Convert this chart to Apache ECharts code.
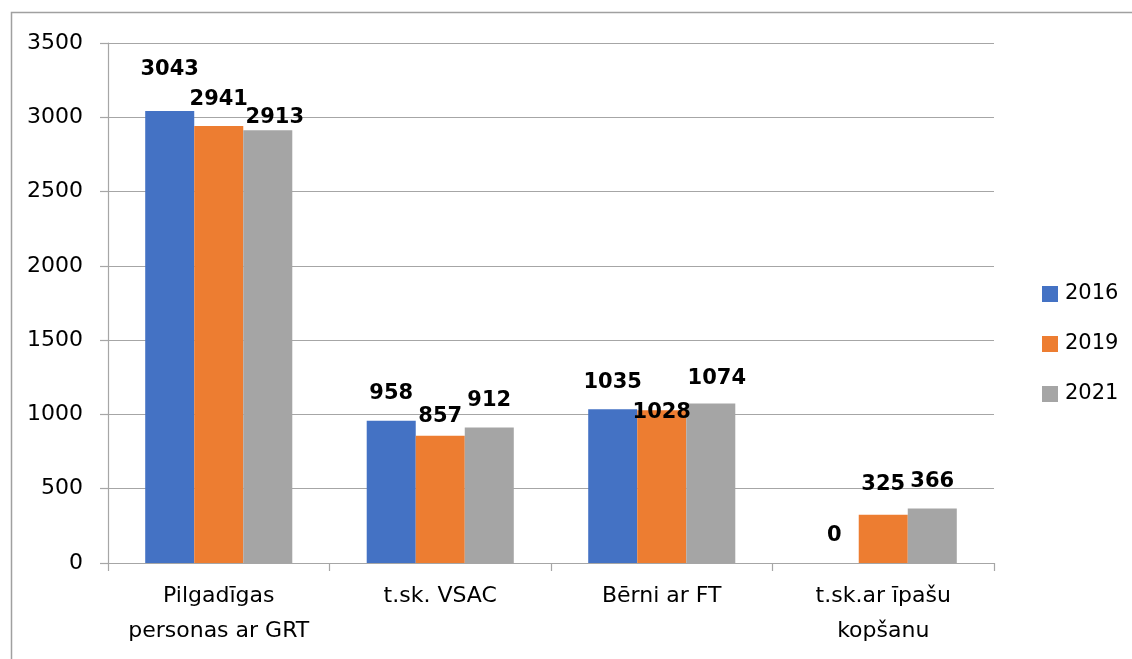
<!DOCTYPE html>
<html>
<head>
<meta charset="utf-8">
<title>Pilgadīgas personas ar GRT</title>
<script src="https://cdn.jsdelivr.net/npm/echarts@6/dist/echarts.min.js"></script>
<style>
  html, body { margin: 0; padding: 0; background: #fff; }
  #main { width: 1132px; height: 659px; }
</style>
</head>
<body>
<div id="main"></div>
<script>
// categories and values
var categories = ['Pilgadīgas\npersonas ar GRT', 't.sk. VSAC', 'Bērni ar FT', 't.sk.ar īpašu\nkopšanu'];
var years = ['2016', '2019', '2021'];
var v2016 = [3043, 958, 1035, 0];
var v2019 = [2941, 857, 1028, 325];
var v2021 = [2913, 912, 1074, 366];
var yTicks = { min: 0, max: 3500, step: 500 };

// label nudges [dx, dy] so the labels sit where the original ones do
var nudge2016 = [[0, -14], [0, 0], [0, 0], [0, 0]];
var nudge2019 = [[0, 0], [0, 8], [0, 29], [0, -3]];
var nudge2021 = [[7, 14], [0, 0], [6, 2], [0, 0]];

var colors = ['#4472C4', '#ED7D31', '#A5A5A5'];
var font = 'DejaVu Sans';
var lineGray = '#a6a6a6';

function makeSeries(name, values, nudges, color) {
  return {
    name: name,
    type: 'bar',
    barGap: 0,
    barCategoryGap: '33.6%',
    itemStyle: { color: color },
    label: {
      show: true,
      position: 'top',
      distance: 16,
      fontFamily: font,
      fontWeight: 'bold',
      fontSize: 21,
      lineHeight: 22,
      color: '#000'
    },
    data: values.map(function (v, i) {
      return { value: v, label: { offset: nudges[i] } };
    })
  };
}

var chart = echarts.init(document.getElementById('main'));
chart.setOption({
  animation: false,
  backgroundColor: '#fff',
  graphic: [{
    type: 'rect',
    left: 9, top: 10,
    shape: { width: 1200, height: 700 },
    style: { fill: 'none', stroke: '#a0a0a0', lineWidth: 1.5 },
    silent: true
  }],
  legend: {
    orient: 'vertical',
    left: 1037,
    top: 278,
    itemWidth: 16,
    itemHeight: 16,
    itemGap: 28,
    icon: 'rect',
    textStyle: { fontFamily: font, fontSize: 21, lineHeight: 22, color: '#000', padding: [0, 0, 0, 2] },
    data: years
  },
  grid: { left: 108, right: 138, top: 43, bottom: 96 },
  xAxis: {
    type: 'category',
    data: categories,
    axisLine: { show: true, lineStyle: { color: lineGray, width: 1.2 } },
    axisTick: { show: true, length: 8, alignWithLabel: false, lineStyle: { color: lineGray, width: 1.2 } },
    axisLabel: {
      fontFamily: font, fontSize: 22, lineHeight: 35, color: '#000',
      margin: 16, interval: 0
    }
  },
  yAxis: {
    type: 'value',
    min: yTicks.min,
    max: yTicks.max,
    interval: yTicks.step,
    axisLine: { show: true, lineStyle: { color: lineGray, width: 1.2 } },
    axisTick: { show: true, length: 8, lineStyle: { color: lineGray, width: 1.2 } },
    splitLine: { show: true, lineStyle: { color: lineGray, width: 1.2 } },
    axisLabel: {
      fontFamily: font, fontSize: 22, color: '#000', margin: 25,
      formatter: function (v) { return String(v); }
    }
  },
  series: [
    makeSeries(years[0], v2016, nudge2016, colors[0]),
    makeSeries(years[1], v2019, nudge2019, colors[1]),
    makeSeries(years[2], v2021, nudge2021, colors[2])
  ]
});
</script>
</body>
</html>
